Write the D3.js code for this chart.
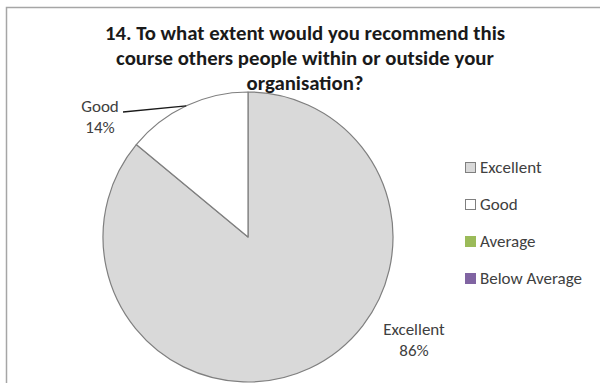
<!DOCTYPE html>
<html>
<head>
<meta charset="utf-8">
<script src="https://cdn.jsdelivr.net/npm/d3@7"></script>
<style>
  html, body { margin: 0; padding: 0; background: #fff; }
  svg { display: block; }
  text { font-family: Carlito, Lato, "Open Sans", sans-serif; }
</style>
</head>
<body>
<svg id="chart" width="600" height="383"></svg>
<script>
// Survey answers for question 14
const categories = ["Excellent", "Good", "Average", "Below Average"];
const percentages = [86, 14, 0, 0];
const sliceColors = ["#d9d9d9", "#ffffff", "#9bbb59", "#8064a2"];
const titleLines = [
  "14. To what extent would you recommend this",
  "course others people within or outside your",
  "organisation?"
];

const svg = d3.select("#chart");

// chart frame
svg.append("rect")
  .attr("x", 6.5).attr("y", 7.5)
  .attr("width", 620).attr("height", 400)
  .attr("fill", "#fff")
  .attr("stroke", "#a6a6a6").attr("stroke-width", 1.5);

const cx = 248, cy = 237, radius = 145;

const data = categories.map((c, i) => ({ name: c, value: percentages[i], color: sliceColors[i] }));

const pie = d3.pie().sort(null).value(d => d.value);
const arcs = pie(data);
const arc = d3.arc().innerRadius(0).outerRadius(radius);

const g = svg.append("g").attr("transform", `translate(${cx},${cy})`);

g.selectAll("path.slice")
  .data(arcs.filter(a => a.data.value > 0))
  .join("path")
  .attr("class", "slice")
  .attr("d", arc)
  .attr("fill", d => d.data.color)
  .attr("stroke", "#7f7f7f")
  .attr("stroke-width", 1.2)
  .attr("stroke-linejoin", "round");

// title
svg.append("g").selectAll("text")
  .data(titleLines)
  .join("text")
  .attr("x", 305)
  .attr("y", (d, i) => 40 + i * 25)
  .attr("text-anchor", "middle")
  .attr("font-size", 20.8)
  .attr("font-weight", "bold")
  .attr("fill", "#1a1a1a")
  .text(d => d);

// data labels
const fmt = v => `${v}%`;
const labelPos = {
  "Excellent": { x: 414, y: 335 },
  "Good": { x: 100, y: 112 }
};

arcs.filter(a => a.data.value > 0).forEach(a => {
  const p = labelPos[a.data.name];
  const lbl = svg.append("text")
    .attr("x", p.x).attr("y", p.y)
    .attr("text-anchor", "middle")
    .attr("font-size", 17)
    .attr("fill", "#404040");
  lbl.append("tspan").attr("x", p.x).text(a.data.name);
  lbl.append("tspan").attr("x", p.x).attr("dy", 21).text(fmt(a.data.value));
});

// leader line for the small slice
const good = arcs.find(a => a.data.name === "Good");
const mid = (good.startAngle + good.endAngle) / 2;
const edge = [cx + radius * Math.sin(mid), cy - radius * Math.cos(mid)];
svg.append("path")
  .attr("d", d3.line()([[123, 112], edge]))
  .attr("stroke", "#1a1a1a")
  .attr("stroke-width", 1.3)
  .attr("fill", "none");

// legend
const legend = svg.append("g").attr("transform", "translate(465,167)");
const rows = legend.selectAll("g")
  .data(data)
  .join("g")
  .attr("transform", (d, i) => `translate(0,${i * 37})`);
rows.append("rect")
  .attr("x", 0.5).attr("y", -4.5)
  .attr("width", 10).attr("height", 10)
  .attr("fill", d => d.color)
  .attr("stroke", d => d.value > 0 ? "#7f7f7f" : d.color)
  .attr("stroke-width", 1);
rows.append("text")
  .attr("x", 15).attr("y", 6)
  .attr("font-size", 17)
  .attr("fill", "#404040")
  .text(d => d.name);
</script>
</body>
</html>
